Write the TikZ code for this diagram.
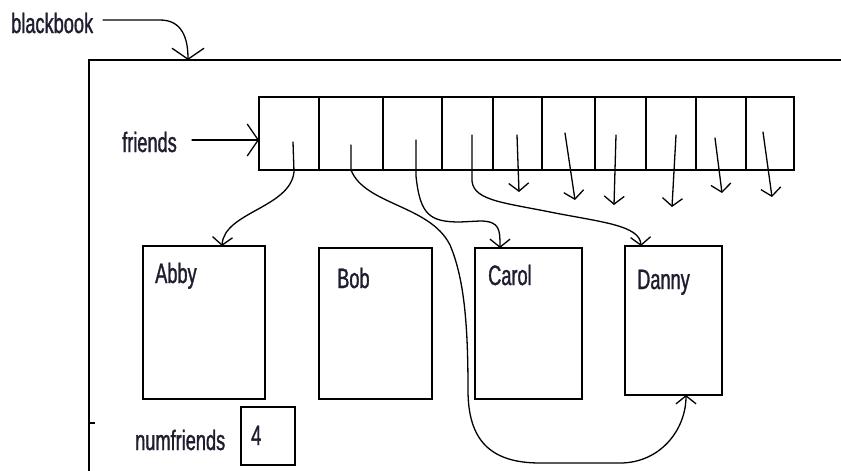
\documentclass[tikz,border=0pt]{standalone}
\usepackage{fontspec}
\setmainfont[FakeStretch=0.65,FakeBold=1.2]{Liberation Sans}
\usetikzlibrary{arrows.meta,calc}
\definecolor{txt}{RGB}{30,30,48}
\begin{document}
\begin{tikzpicture}[x=1pt,y=-1pt,
  box/.style={draw=black, line width=1.8pt, inner sep=0pt, outer sep=0pt, anchor=north west},
  lbl/.style={inner sep=0pt, anchor=base west, text=txt, font=\fontsize{28}{30}\selectfont},
  harrow/.style={draw=black, line width=1.3pt, line cap=round,
     -{Straight Barb[length=8pt,width=20pt,line width=1.3pt]}},
  bigarrow/.style={draw=black, line width=1.3pt, line cap=round,
     -{Straight Barb[length=11pt,width=32pt,line width=1.3pt]}}]
\useasboundingbox (0,0) rectangle (841,471);

% outer blackbook box (extends beyond the page)
\node[box, minimum width=800pt, minimum height=450pt] (outer) at (89,60) {};
\draw[line width=1.3pt] (89,423) -- (95,423);

% labels
\node[lbl] (bb) at (11,33) {blackbook};
\node[lbl] (fr) at (122,152) {friends};
\node[lbl] (nf) at (135,450) {numfriends};

% array of friends
\foreach \a/\b [count=\i] in {259/319,319/383,383/442,442/493,493/542,542/595,595/646,646/696,696/746,746/794}{
  \pgfmathsetmacro\w{\b-\a}
  \node[box, minimum width=\w pt, minimum height=73pt] (c\i) at (\a,97) {};
}

% person boxes
\node[box, minimum width=122pt, minimum height=153pt] (abby) at (143,246) {};
\node[box, minimum width=113pt, minimum height=151pt] (bob) at (319,248) {};
\node[box, minimum width=107pt, minimum height=151pt] (carol) at (475,248) {};
\node[box, minimum width=97pt, minimum height=149pt] (danny) at (625,246) {};
\node[lbl] (abbyt) at (155,283) {Abby};
\node[lbl] (bobt) at (337,288) {Bob};
\node[lbl] (carolt) at (488,285) {Carol};
\node[lbl] (dannyt) at (637,289) {Danny};

% numfriends box
\node[box, minimum width=54pt, minimum height=58pt] (nbox) at (241,407) {};
\node[lbl] (four) at (251,445) {4};

% pointer starts and free ends
\coordinate (bbs) at (103,20);
\coordinate (frs) at (192,140);
\coordinate (p1) at (293,142);
\coordinate (p2) at (351,145);
\coordinate (p3) at (416,140);
\coordinate (p4) at (472,135);
\coordinate (p5) at (517,135);  \coordinate (e5) at (519,192);
\coordinate (p6) at (565,133);  \coordinate (e6) at (575,200);
\coordinate (p7) at (616,135);  \coordinate (e7) at (614,205);
\coordinate (p8) at (676,135);  \coordinate (e8) at (672,207);
\coordinate (p9) at (715,138);  \coordinate (e9) at (722,193);
\coordinate (p10) at (763,132); \coordinate (e10) at (772,197);

% blackbook pointer
\draw[bigarrow] (bbs) -- (160,20) .. controls (182,20) and (188,38) .. (outer.north west -| 188,0);
% friends pointer
\draw[bigarrow] (frs) -- (frs -| c1.west);
% cell pointers
\draw[harrow] (p1) -- (294,172) .. controls (290,208) and (224,212) .. ([xshift=18pt]abby.north);
\draw[harrow] (p2) -- (351,170) .. controls (365,205) and (430,205) .. (450,245)
   .. controls (465,280) and (468,330) .. (468,390)
   .. controls (468,440) and (490,463) .. (540,463) -- (620,463)
   .. controls (660,463) and (686,430) .. ([xshift=12.5pt]danny.south);
\draw[harrow] (p3) -- (416,176) .. controls (420,215) and (430,222) .. (460,222) -- (480,221)
   .. controls (500,221) and (500,230) .. ([xshift=-28.5pt]carol.north);
\draw[harrow] (p4) -- (472,177) .. controls (470,200) and (500,202) .. (550,212)
   .. controls (600,222) and (640,225) .. ([xshift=-32.5pt]danny.north);
\foreach \i in {5,...,10}{
  \draw[harrow] (p\i) -- (e\i);
}
\end{tikzpicture}
\end{document}
